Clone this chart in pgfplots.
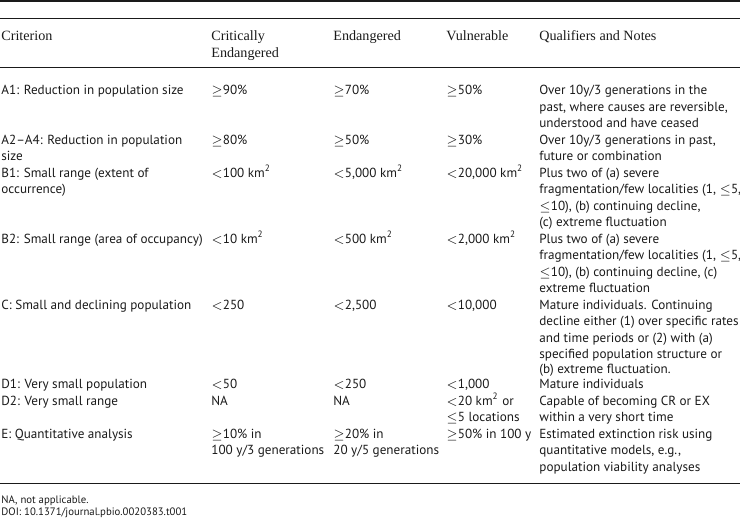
\documentclass[border=0pt]{standalone}
\usepackage{pgfplots}
\pgfplotsset{compat=1.18}
\usepackage{fontspec}
\setmainfont{PT Sans}
\newfontfamily\headfont{Liberation Serif}
\definecolor{ink}{HTML}{1A1A1A}

\tikzset{
  cell/.style={anchor=west, inner sep=0pt, text=ink,
    text height=5.7bp, text depth=1.1bp, font=\fontsize{6.6}{8}\selectfont},
  head/.style={cell, font=\headfont\fontsize{7.1}{8}\selectfont},
  foot/.style={cell, font=\fontsize{5.4}{7}\selectfont},
}

% one text line of the table: y (px), then the five columns
\newcommand\tr[6]{%
  \node[cell] at (axis cs:1,#1) {#2};
  \node[cell] at (axis cs:211,#1) {#3};
  \node[cell] at (axis cs:333,#1) {#4};
  \node[cell] at (axis cs:446,#1) {#5};
  \node[cell] at (axis cs:539,#1) {#6};
}
\newcommand\sym[1]{{\fontsize{6}{7}\selectfont$#1$}}
\newcommand\GE{\sym{\geq}}
\newcommand\LE{\sym{\leq}}
\newcommand\LT{\sym{<}}
\newcommand\kmq{km\textsuperscript{2}}

\begin{document}
\begin{tikzpicture}
\useasboundingbox (0,0) rectangle (370bp,259.5bp);
\begin{axis}[
    at={(0,0)}, anchor=south west,
    scale only axis, width=370bp, height=259.5bp,
    xmin=0, xmax=740, ymin=0, ymax=519, y dir=reverse,
    hide axis, clip=false,
]
% rules
\addplot[ink, line width=1bp] coordinates {(0,1) (740,1)};
\addplot[ink, line width=0.5bp] coordinates {(0,19) (740,19)};
\addplot[ink, line width=0.5bp] coordinates {(0,68) (740,68)};
\addplot[ink, line width=0.5bp] coordinates {(0,483) (740,483)};

% header
\node[head] at (axis cs:1,36) {Criterion};
\node[head] at (axis cs:211,36) {Critically};
\node[head] at (axis cs:211,53) {Endangered};
\node[head] at (axis cs:333,36) {Endangered};
\node[head] at (axis cs:446,36) {Vulnerable};
\node[head] at (axis cs:539,36) {Qualifiers and Notes};

% body
\tr{90}{A1: Reduction in population size}{\GE90\%}{\GE70\%}{\GE50\%}{Over 10y/3 generations in the}
\tr{106.5}{}{}{}{}{past, where causes are reversible,}
\tr{123}{}{}{}{}{understood and have ceased}
\tr{139.5}{A2--A4: Reduction in population}{\GE80\%}{\GE50\%}{\GE30\%}{Over 10y/3 generations in past,}
\tr{156}{size}{}{}{}{future or combination}
\tr{172.5}{B1: Small range (extent of}{\LT100 \kmq}{\LT5,000 \kmq}{\LT20,000 \kmq}{Plus two of (a) severe}
\tr{189}{occurrence)}{}{}{}{fragmentation/few localities (1, \LE5,}
\tr{205.5}{}{}{}{}{\LE10), (b) continuing decline,}
\tr{222}{}{}{}{}{(c) extreme fluctuation}
\tr{238.5}{B2: Small range (area of occupancy)}{\LT10 \kmq}{\LT500 \kmq}{\LT2,000 \kmq}{Plus two of (a) severe}
\tr{255}{}{}{}{}{fragmentation/few localities (1, \LE5,}
\tr{271.5}{}{}{}{}{\LE10), (b) continuing decline, (c)}
\tr{288}{}{}{}{}{extreme fluctuation}
\tr{304.5}{C: Small and declining population}{\LT250}{\LT2,500}{\LT10,000}{Mature individuals. Continuing}
\tr{321}{}{}{}{}{decline either (1) over specific rates}
\tr{337.5}{}{}{}{}{and time periods or (2) with (a)}
\tr{354}{}{}{}{}{specified population structure or}
\tr{368.5}{}{}{}{}{(b) extreme fluctuation.}
\tr{384}{D1: Very small population}{\LT50}{\LT250}{\LT1,000}{Mature individuals}
\tr{400.5}{D2: Very small range}{NA}{NA}{\LT20 \kmq{} or}{Capable of becoming CR or EX}
\tr{417}{}{}{}{\LE5 locations}{within a very short time}
\tr{433.5}{E: Quantitative analysis}{\GE10\% in}{\GE20\% in}{\GE50\% in 100 y}{Estimated extinction risk using}
\tr{450}{}{100 y/3 generations}{20 y/5 generations}{}{quantitative models, e.g.,}
\tr{466.5}{}{}{}{}{population viability analyses}

% footnotes
\node[foot] at (axis cs:1,499) {NA, not applicable.};
\node[foot] at (axis cs:1,511) {DOI: 10.1371/journal.pbio.0020383.t001};
\end{axis}
\end{tikzpicture}
\end{document}
